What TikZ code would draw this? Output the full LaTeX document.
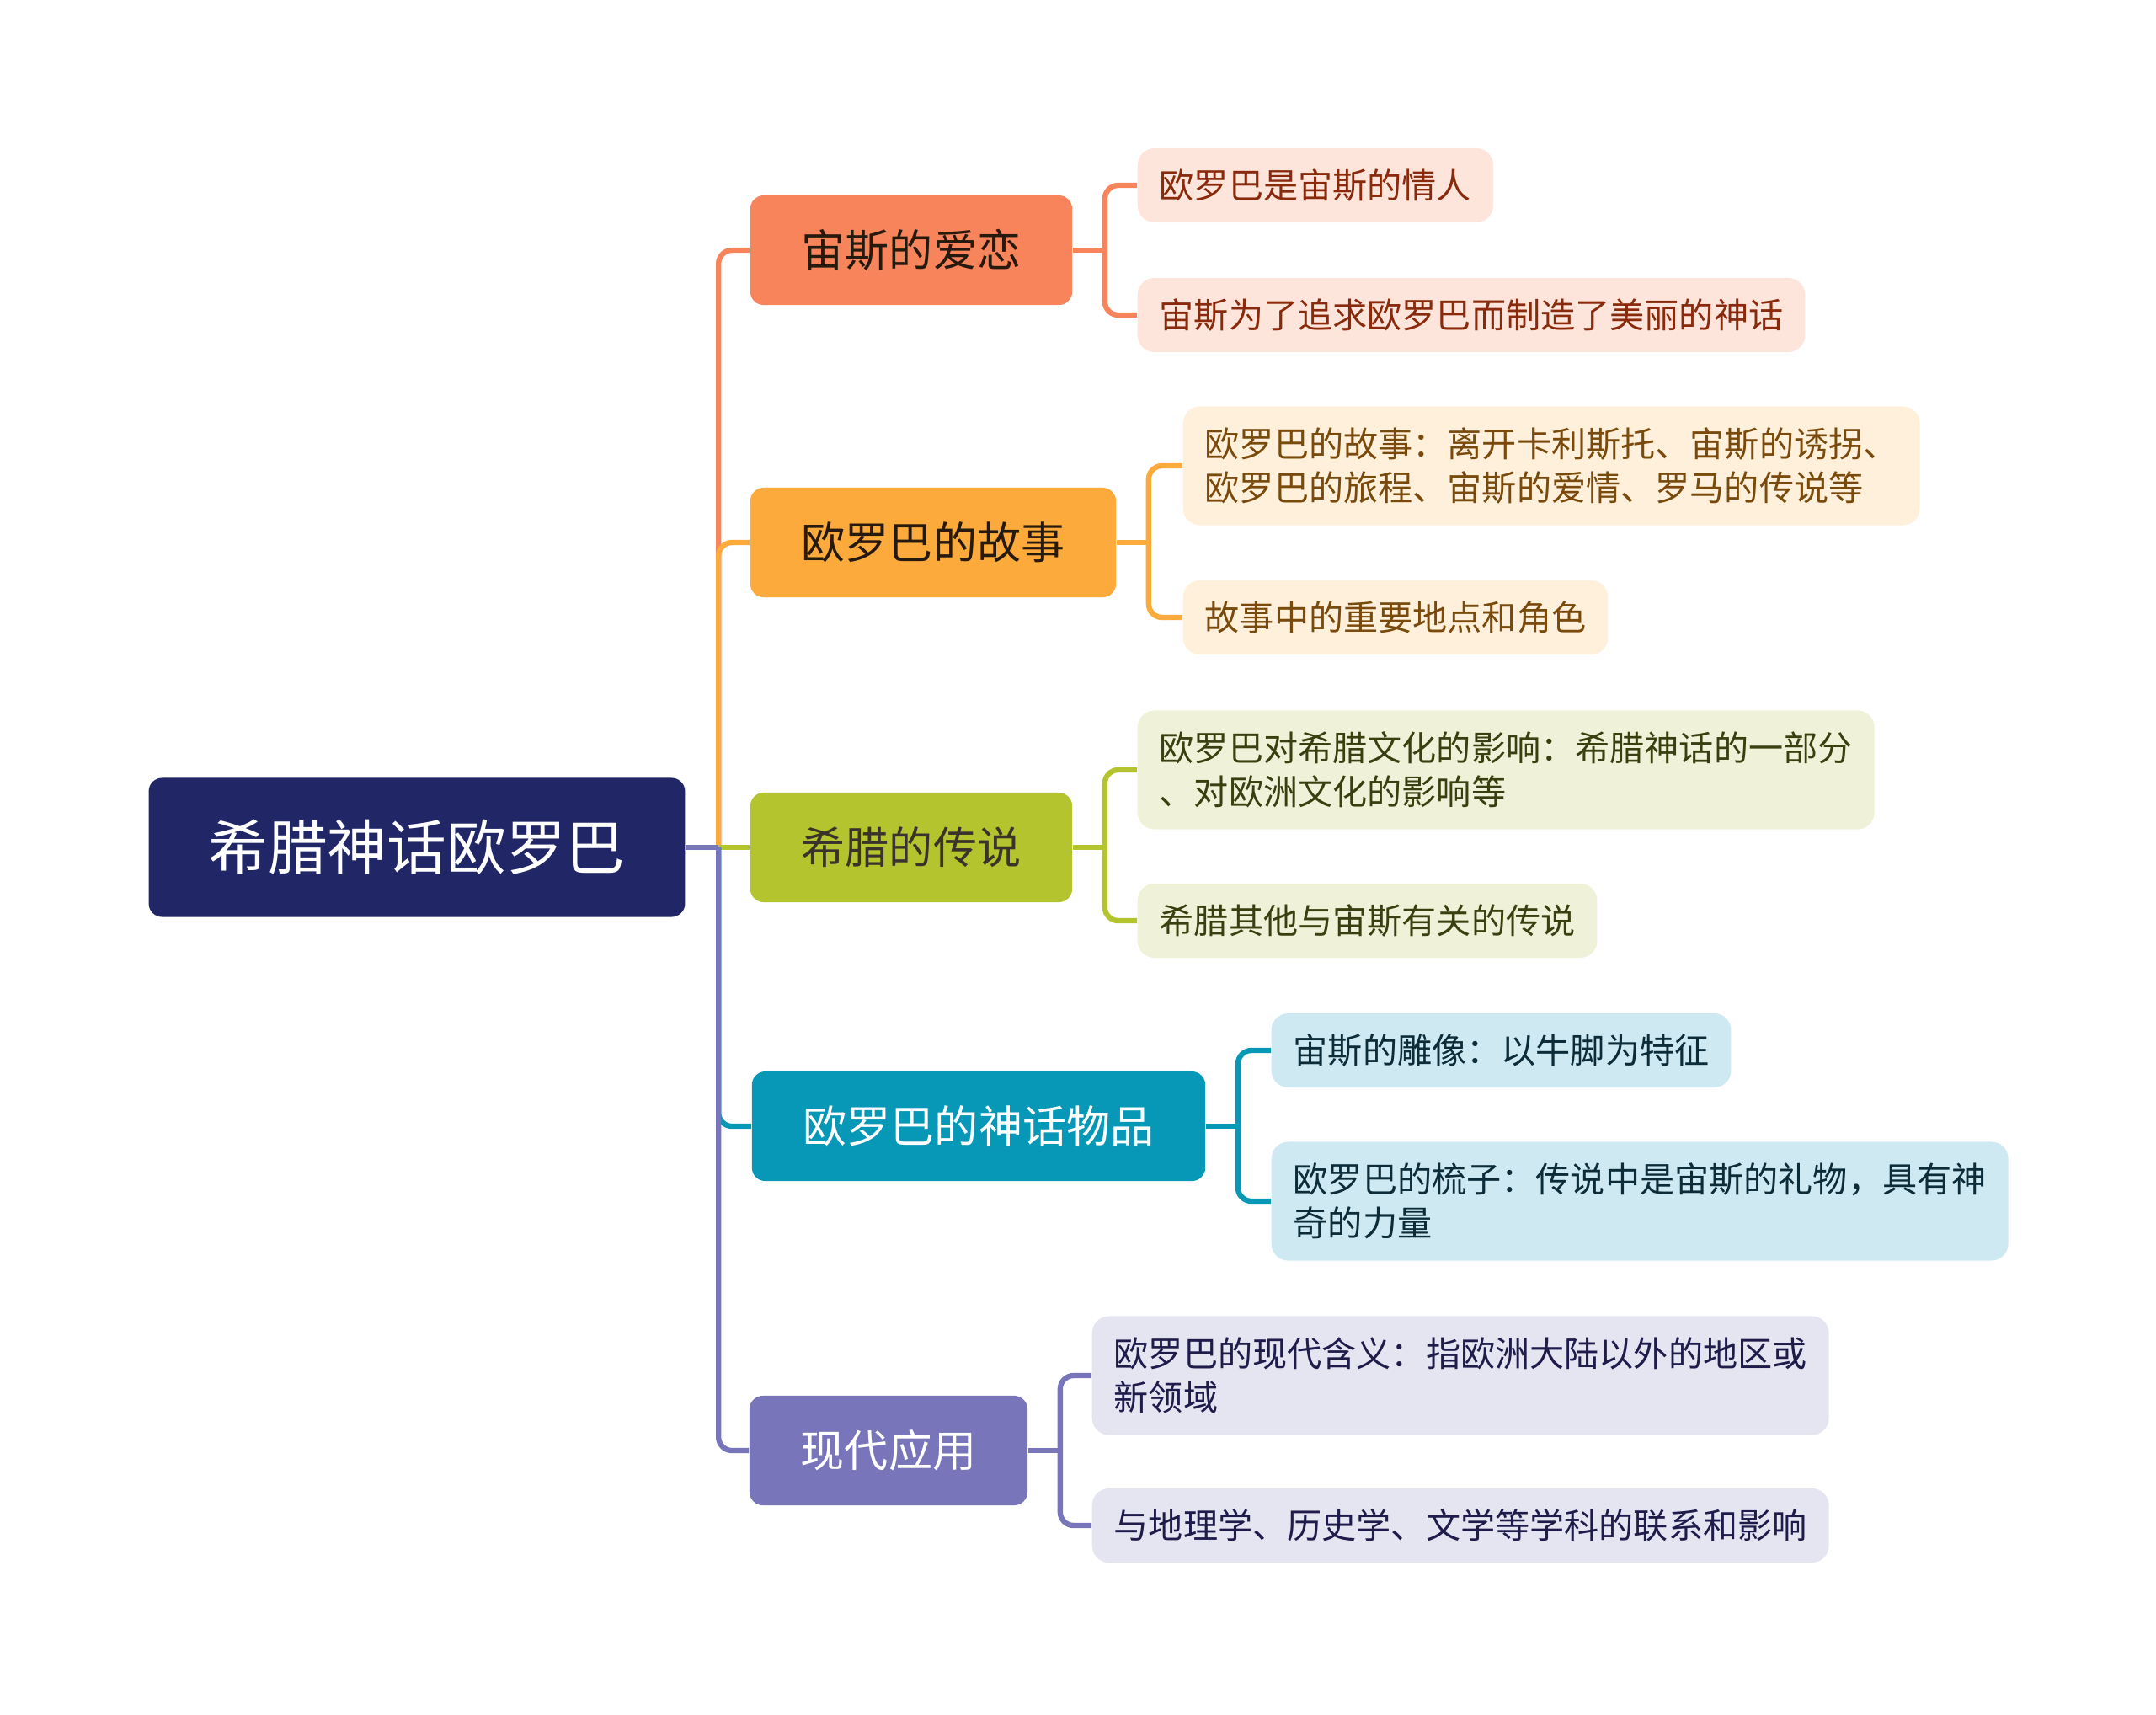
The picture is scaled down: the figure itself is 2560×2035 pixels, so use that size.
\documentclass[tikz,border=0pt]{standalone}
\usepackage{fontspec}
\newfontfamily\cjk{Noto Sans CJK SC}
\usetikzlibrary{positioning}
\definecolor{rootbg}{HTML}{212766}
\definecolor{c1}{HTML}{F7845A}
\definecolor{c2}{HTML}{FBAA3B}
\definecolor{c3}{HTML}{B3C42E}
\definecolor{c4}{HTML}{0698B6}
\definecolor{c5}{HTML}{7875BA}
\definecolor{l1}{HTML}{FDE5DB}
\definecolor{l2}{HTML}{FEF0DA}
\definecolor{l3}{HTML}{EFF2D9}
\definecolor{l4}{HTML}{CEE9F1}
\definecolor{l5}{HTML}{E5E4F1}
\definecolor{t1}{HTML}{8A2A0C}
\definecolor{t2}{HTML}{7A4A0C}
\definecolor{t3}{HTML}{3A3F10}
\definecolor{t4}{HTML}{0C2C3A}
\definecolor{t5}{HTML}{1F1C4B}

\begin{document}
\begin{tikzpicture}[x=0.01cm,y=-0.01cm,every node/.style={font=\cjk},
  box/.style={rounded corners=0.16cm,inner ysep=0pt,align=left},
  topic/.style={box,minimum height=1.3cm,inner xsep=0.61cm,font=\cjk\fontsize{14.8}{18}\selectfont},
  leaf/.style={box,rounded corners=0.2cm,minimum height=0.88cm,inner xsep=0.26cm,anchor=west,font=\cjk\fontsize{11.7}{14.8}\selectfont},
  twoline/.style={minimum height=1.41cm},
  link/.style={line width=1.8pt,rounded corners=0.16cm}]
\useasboundingbox (0,0) rectangle (2560,2035);
% root and main topics
\node[box,fill=rootbg,text=white,minimum height=1.65cm,inner xsep=0.71cm,font=\cjk\fontsize{20.1}{24}\selectfont] (root) at (495,1006) {希腊神话欧罗巴};
\node[topic,fill=c1,text=black!80!brown] (b1) at (1082,297) {宙斯的爱恋};
\node[topic,fill=c2,text=black!80!brown] (b2) at (1108,644) {欧罗巴的故事};
\node[topic,fill=c3,text=black!80!olive] (b3) at (1082,1006) {希腊的传说};
\node[topic,fill=c4,text=white] (b4) at (1162,1337) {欧罗巴的神话物品};
\node[topic,fill=c5,text=white] (b5) at (1055,1722) {现代应用};
% leaves
\node[leaf,fill=l1,text=t1] (l1a) at (1350,220) {欧罗巴是宙斯的情人};
\node[leaf,fill=l1,text=t1] (l1b) at (1350,374) {宙斯为了追求欧罗巴而制造了美丽的神话};
\node[leaf,twoline,fill=l2,text=t2] (l2a) at (1404,553) {欧罗巴的故事：离开卡利斯托、宙斯的诱拐、\\欧罗巴的旅程、宙斯的爱情、罗马的传说等};
\node[leaf,fill=l2,text=t2] (l2b) at (1404,733) {故事中的重要地点和角色};
\node[leaf,twoline,fill=l3,text=t3] (l3a) at (1350,914) {欧罗巴对希腊文化的影响：希腊神话的一部分\\、对欧洲文化的影响等};
\node[leaf,fill=l3,text=t3] (l3b) at (1350,1093) {希腊其他与宙斯有关的传说};
\node[leaf,fill=l4,text=t4] (l4a) at (1509,1247) {宙斯的雕像：以牛脚为特征};
\node[leaf,twoline,fill=l4,text=t4] (l4b) at (1509,1426) {欧罗巴的梳子：传说中是宙斯的礼物，具有神\\奇的力量};
\node[leaf,twoline,fill=l5,text=t5] (l5a) at (1296,1633) {欧罗巴的现代含义：指欧洲大陆以外的地区或\\新领域};
\node[leaf,fill=l5,text=t5] (l5b) at (1296,1811) {与地理学、历史学、文学等学科的联系和影响};
% trunk
\coordinate (t0) at ([xshift=0.39cm]root.east);
\draw[link,c1] (t0) |- (b1.west);
\draw[link,c2] (t0) |- (b2.west);
\draw[link,c3] (t0) -- (b3.west);
\draw[link,c4] (t0) |- (b4.west);
\draw[link,c5] (t0) |- (b5.west);
\draw[link,c5] (root.east) -- (t0);
% forks
\foreach \b/\c in {1/c1,2/c2,3/c3,4/c4,5/c5}{
  \draw[link,\c] (b\b.east) -- ++(38,0) coordinate (f\b);
  \draw[link,\c] (f\b) |- (l\b a.west);
  \draw[link,\c] (f\b) |- (l\b b.west);
}
\end{tikzpicture}
\end{document}
